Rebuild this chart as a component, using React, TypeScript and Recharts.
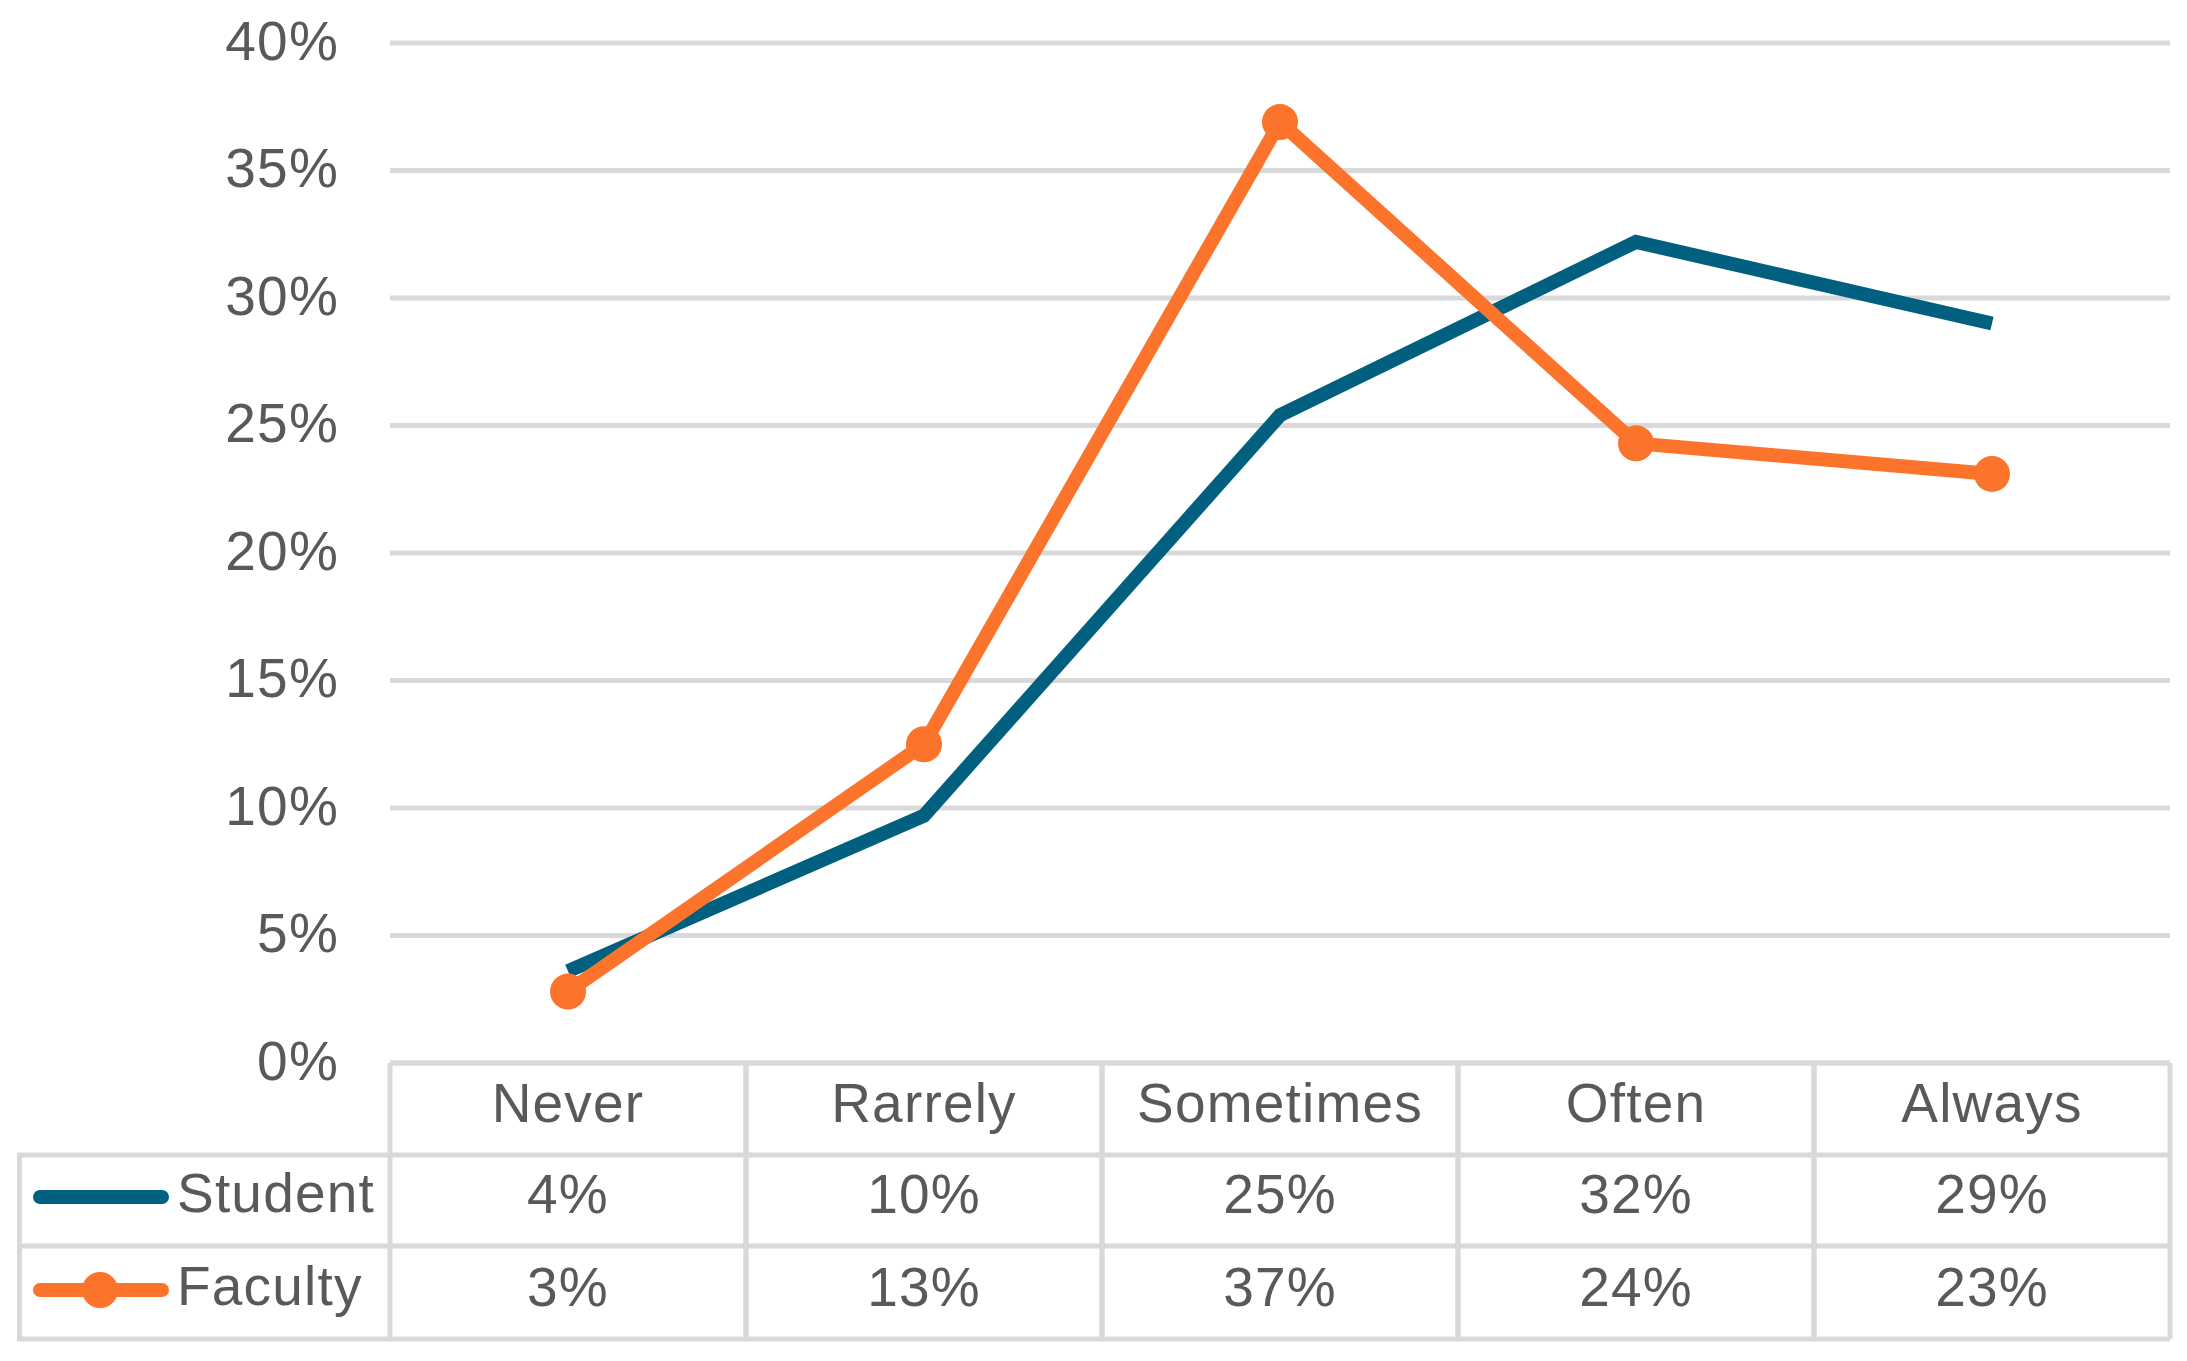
import { CartesianGrid, Legend, Line, LineChart, XAxis, YAxis } from 'recharts'

const categories = ['Never', 'Rarrely', 'Sometimes', 'Often', 'Always']
const student = [0.036, 0.097, 0.254, 0.322, 0.29]
const faculty = [0.028, 0.125, 0.369, 0.243, 0.231]
const yTicks = [0, 0.05, 0.1, 0.15, 0.2, 0.25, 0.3, 0.35, 0.4]

const W = 2187
const H = 1361
const PLOT_LEFT = 390
const PLOT_RIGHT = 2170
const PLOT_TOP = 43
const PLOT_BOTTOM = 1063
const BAND = (PLOT_RIGHT - PLOT_LEFT) / categories.length

const STUDENT = '#01607F'
const FACULTY = '#FC742C'
const GRID = '#D9D9D9'
const TEXT = '#595959'
const FONT = '"Liberation Sans", Arial, sans-serif'
const FS = 55
const LS = 1.2

const ROW1 = 92
const ROW2 = 183
const ROW3 = 276

const data = categories.map((c, i) => ({ cat: c, student: student[i], faculty: faculty[i] }))

const pct = (v: number) => `${Math.round(v * 100)}%`

function TableTick(props: any) {
  const { x, y, index, payload } = props
  const l = x - BAND / 2
  const r = x + BAND / 2
  const txt = {
    fill: TEXT,
    fontSize: FS,
    fontFamily: FONT,
    letterSpacing: LS,
    textAnchor: 'middle' as const,
    dominantBaseline: 'central' as const,
  }
  return (
    <g>
      <line x1={l} x2={l} y1={y} y2={y + ROW3} stroke={GRID} strokeWidth={5} />
      <line x1={r} x2={r} y1={y} y2={y + ROW3} stroke={GRID} strokeWidth={5} />
      {[0, ROW1, ROW2, ROW3].map((d) => (
        <line key={d} x1={l} x2={r} y1={y + d} y2={y + d} stroke={GRID} strokeWidth={5} />
      ))}
      <text x={x} y={y + 40} {...txt}>{payload.value}</text>
      <text x={x} y={y + 131} {...txt}>{pct(student[index])}</text>
      <text x={x} y={y + 224} {...txt}>{pct(faculty[index])}</text>
    </g>
  )
}

const LEG_TOP = 1140

function TableLegend() {
  const y0 = PLOT_BOTTOM - LEG_TOP
  const txt = { fill: TEXT, fontSize: FS, fontFamily: FONT, letterSpacing: LS, dominantBaseline: 'central' as const }
  return (
    <svg width={PLOT_LEFT + 3} height={H - LEG_TOP} style={{ display: 'block' }}>
      <line x1={19.5} x2={19.5} y1={y0 + ROW1} y2={y0 + ROW3} stroke={GRID} strokeWidth={5} />
      {[ROW1, ROW2, ROW3].map((d) => (
        <line key={d} x1={17} x2={PLOT_LEFT} y1={y0 + d} y2={y0 + d} stroke={GRID} strokeWidth={5} />
      ))}
      <line x1={40} x2={162} y1={y0 + 134} y2={y0 + 134} stroke={STUDENT} strokeWidth={14} strokeLinecap="round" />
      <text x={177} y={y0 + 130} {...txt}>Student</text>
      <line x1={40} x2={162} y1={y0 + 227} y2={y0 + 227} stroke={FACULTY} strokeWidth={14} strokeLinecap="round" />
      <circle cx={100} cy={y0 + 227} r={18} fill={FACULTY} />
      <text x={177} y={y0 + 223} {...txt}>Faculty</text>
    </svg>
  )
}

export default function App() {
  return (
    <div style={{ position: 'absolute', left: 0, top: 0, width: W, height: H, background: '#fff' }}>
      <LineChart
        width={W}
        height={H}
        data={data}
        margin={{ top: PLOT_TOP, right: W - PLOT_RIGHT, bottom: 0, left: PLOT_LEFT - 100 }}
      >
        <CartesianGrid stroke={GRID} strokeWidth={5} vertical={false} />
        <XAxis
          dataKey="cat"
          height={H - PLOT_BOTTOM}
          axisLine={false}
          tickLine={false}
          tickSize={0}
          tickMargin={0}
          interval={0}
          padding={{ left: BAND / 2, right: BAND / 2 }}
          tick={<TableTick />}
        />
        <YAxis
          width={100}
          domain={[0, 0.4]}
          ticks={yTicks}
          interval={0}
          axisLine={false}
          tickLine={false}
          tickSize={0}
          tickMargin={51}
          tickFormatter={pct}
          tick={{ fill: TEXT, fontSize: FS, fontFamily: FONT, letterSpacing: LS, dy: -3 }}
        />
        <Legend
          layout="horizontal"
          verticalAlign="middle"
          align="center"
          content={<TableLegend />}
          wrapperStyle={{ left: 0, top: LEG_TOP, width: PLOT_LEFT + 3, height: H - LEG_TOP }}
        />
        <Line
          dataKey="student"
          stroke={STUDENT}
          strokeWidth={14}
          dot={false}
          activeDot={false}
          isAnimationActive={false}
        />
        <Line
          dataKey="faculty"
          stroke={FACULTY}
          strokeWidth={14}
          dot={{ r: 18, fill: FACULTY, stroke: 'none' }}
          activeDot={false}
          isAnimationActive={false}
        />
      </LineChart>
    </div>
  )
}
